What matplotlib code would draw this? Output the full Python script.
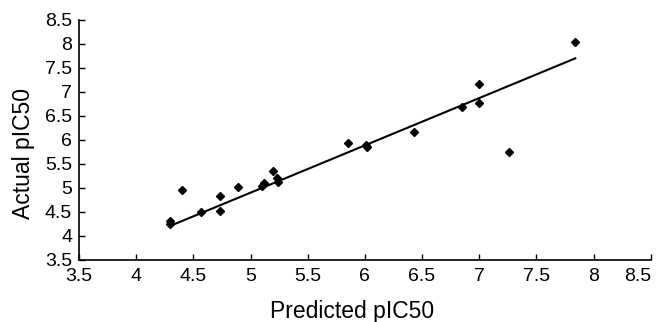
import numpy as np
import matplotlib
matplotlib.use('Agg')
import matplotlib.pyplot as plt

plt.rcParams['font.family'] = ['Liberation Sans', 'DejaVu Sans']

# Predicted vs actual pIC50 values
predicted = [4.30, 4.30, 4.40, 4.57, 4.73, 4.73, 4.89, 5.10, 5.12, 5.20, 5.23, 5.24,
             5.85, 6.01, 6.02, 6.43, 6.85, 7.00, 7.00, 7.26, 7.84]
actual = [4.32, 4.25, 4.96, 4.49, 4.84, 4.51, 5.01, 5.04, 5.11, 5.35, 5.20, 5.13,
          5.93, 5.90, 5.85, 6.17, 6.69, 7.16, 6.77, 5.74, 8.04]

# regression line end points
fit_x = [4.30, 7.84]
fit_y = [4.21, 7.70]

ticks = [3.5, 4, 4.5, 5, 5.5, 6, 6.5, 7, 7.5, 8, 8.5]
tick_labels = ['3.5', '4', '4.5', '5', '5.5', '6', '6.5', '7', '7.5', '8', '8.5']

fig = plt.figure(figsize=(6.58, 3.22), dpi=100)
ax = fig.add_axes([0.120, 0.193, 0.869, 0.745])

ax.plot(fit_x, fit_y, color='black', linewidth=1.5)
ax.plot(predicted, actual, linestyle='none', marker='D', markersize=4.2,
        color='black')

ax.set_xlim(3.5, 8.5)
ax.set_ylim(3.5, 8.5)
ax.set_xticks(ticks)
ax.set_xticklabels(tick_labels)
ax.set_yticks(ticks)
ax.set_yticklabels(tick_labels)
ax.tick_params(direction='in', length=4, width=1, labelsize=14)
ax.tick_params(axis='x', pad=6)
ax.tick_params(axis='y', pad=5)
# last x label sits flush with the axis end
ax.get_xticklabels()[-1].set_horizontalalignment('right')

for side in ['top', 'right']:
    ax.spines[side].set_visible(False)
for side in ['left', 'bottom']:
    ax.spines[side].set_linewidth(1.2)

fig.text(0.535, 0.012, 'Predicted pIC50', fontsize=16.5, ha='center', va='baseline')
fig.text(0.035, 0.523, 'Actual pIC50', fontsize=16.5, rotation=90,
         ha='center', va='center')

plt.savefig('out.png', dpi=100)
